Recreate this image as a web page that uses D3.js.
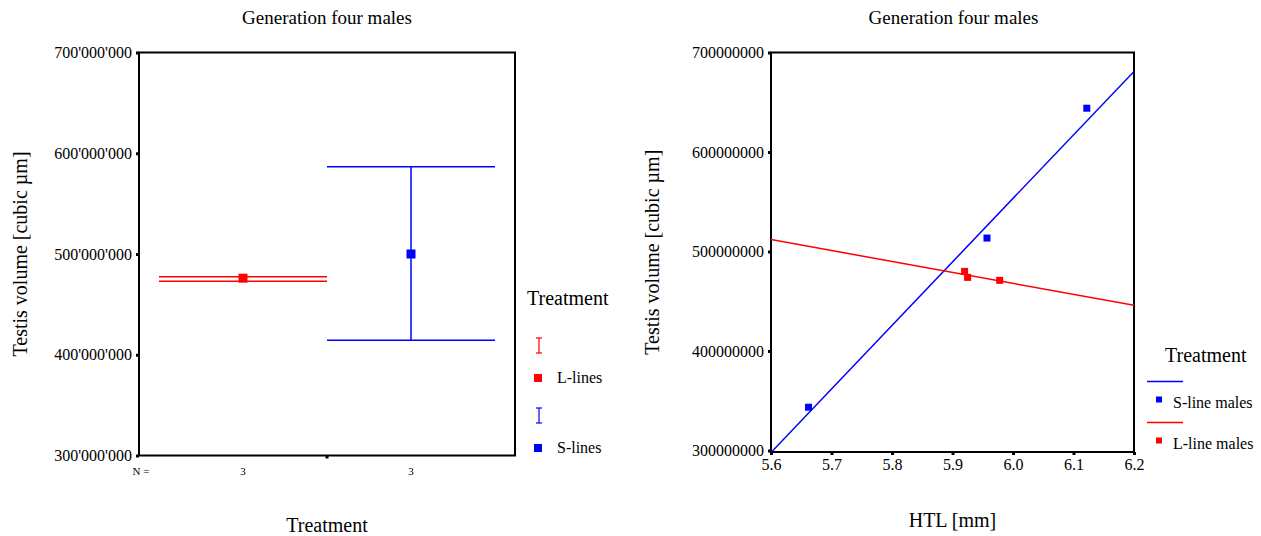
<!DOCTYPE html>
<html>
<head>
<meta charset="utf-8">
<script src="https://cdn.jsdelivr.net/npm/d3@7"></script>
<style>
  body { margin: 0; background: #fff; }
  text { font-family: "Liberation Serif", "Times New Roman", serif; fill: #000; }
</style>
</head>
<body>
<div id="chart"></div>
<script>
// ---- data: left panel, mean +/- error per treatment
var groups = ["L-lines", "S-lines"];
var groupN = [3, 3];
var groupMean = [476e6, 500e6];
var groupLow = [473e6, 414.5e6];
var groupHigh = [477.5e6, 586.5e6];
var groupColor = ["#ff0000", "#0000ff"];
var volTicks = [300e6, 400e6, 500e6, 600e6, 700e6];

// ---- data: right panel, HTL vs testis volume
var sLineHTL = [5.662, 5.957, 6.122];
var sLineVol = [343.5e6, 513.5e6, 644e6];
var lLineHTL = [5.920, 5.925, 5.978];
var lLineVol = [480e6, 474e6, 471e6];
var sLineFit = [[5.6, 298e6], [6.2, 681e6]];
var lLineFit = [[5.6, 512e6], [6.2, 446e6]];
var htlTicks = [5.6, 5.7, 5.8, 5.9, 6.0, 6.1, 6.2];
var fitLegend = ["S-line males", "L-line males"];
var fitColor = ["#0000ff", "#ff0000"];

var width = 1261, height = 536;

var svg = d3.select("#chart")
  .append("svg")
    .attr("width", width)
    .attr("height", height);

var fmt = d3.formatLocale({decimal: ".", thousands: "'", grouping: [3], currency: ["", ""]}).format(",");

// =================== left panel ===================
var L = {x0: 139, x1: 515, y0: 52.5, y1: 455.5};

var yL = d3.scaleLinear().domain([300e6, 700e6]).range([L.y1, L.y0]);
var xL = d3.scaleBand().domain(groups).range([L.x0 + 20, L.x1 - 20]).padding(0);

svg.append("text")
  .attr("x", (L.x0 + L.x1) / 2).attr("y", 24)
  .attr("text-anchor", "middle").style("font-size", "19px")
  .text("Generation four males");

// y axis with small square ticks
var gyL = svg.append("g")
  .attr("transform", "translate(" + L.x0 + ",0)")
  .call(d3.axisLeft(yL).tickValues(volTicks).tickFormat(fmt).tickSize(3).tickPadding(4));
gyL.select(".domain").remove();
gyL.selectAll("line").attr("stroke", "#000").attr("stroke-width", 3);
gyL.selectAll("text").style("font-size", "16px").style("font-family", '"Liberation Serif", serif');

// tick between the two groups on the bottom axis
svg.append("rect")
  .attr("x", xL(groups[1]) - 1.5).attr("y", L.y1)
  .attr("width", 3).attr("height", 3).attr("fill", "#000");

// frame
svg.append("rect")
  .attr("x", L.x0).attr("y", L.y0)
  .attr("width", L.x1 - L.x0).attr("height", L.y1 - L.y0)
  .attr("fill", "none").attr("stroke", "#000").attr("stroke-width", 2);

// error bars
groups.forEach(function(g, i) {
  var bx = xL(g), bw = xL.bandwidth(), cx = bx + bw / 2;
  var eb = svg.append("g").attr("stroke", groupColor[i]).attr("stroke-width", 1.5);
  eb.append("line").attr("x1", bx).attr("x2", bx + bw).attr("y1", yL(groupHigh[i])).attr("y2", yL(groupHigh[i]));
  eb.append("line").attr("x1", bx).attr("x2", bx + bw).attr("y1", yL(groupLow[i])).attr("y2", yL(groupLow[i]));
  eb.append("line").attr("x1", cx).attr("x2", cx).attr("y1", yL(groupHigh[i])).attr("y2", yL(groupLow[i]));
  svg.append("rect")
    .attr("x", cx - 4.5).attr("y", yL(groupMean[i]) - 4.5)
    .attr("width", 9).attr("height", 9)
    .attr("fill", groupColor[i]);
  // N counts
  svg.append("text")
    .attr("x", cx).attr("y", 475)
    .attr("text-anchor", "middle").style("font-size", "11px")
    .text(groupN[i]);
});

svg.append("text")
  .attr("x", L.x0 + 2).attr("y", 475)
  .attr("text-anchor", "middle").style("font-size", "11px")
  .text("N =");

svg.append("text")
  .attr("x", (L.x0 + L.x1) / 2).attr("y", 532)
  .attr("text-anchor", "middle").style("font-size", "20px")
  .text("Treatment");

svg.append("text")
  .attr("transform", "translate(27," + ((L.y0 + L.y1) / 2) + ") rotate(-90)")
  .attr("text-anchor", "middle").style("font-size", "20px")
  .text("Testis volume [cubic µm]");

// legend
svg.append("text").attr("x", 527).attr("y", 305).style("font-size", "20px").text("Treatment");
groups.forEach(function(g, i) {
  var top = 338 + i * 70;
  var lg = svg.append("g").attr("stroke", groupColor[i]).attr("stroke-width", 1.2);
  lg.append("line").attr("x1", 539).attr("x2", 539).attr("y1", top).attr("y2", top + 15);
  lg.append("line").attr("x1", 536).attr("x2", 542).attr("y1", top).attr("y2", top);
  lg.append("line").attr("x1", 536).attr("x2", 542).attr("y1", top + 15).attr("y2", top + 15);
  svg.append("rect")
    .attr("x", 534).attr("y", top + 36).attr("width", 8).attr("height", 8)
    .attr("fill", groupColor[i]);
  svg.append("text").attr("x", 557).attr("y", top + 45).style("font-size", "16px").text(g);
});

// =================== right panel ===================
var R = {x0: 771, x1: 1134, y0: 52.5, y1: 452};

var xR = d3.scaleLinear().domain([5.6, 6.2]).range([R.x0, R.x1]);
var yR = d3.scaleLinear().domain([298.5e6, 700e6]).range([R.y1, R.y0]);

svg.append("text")
  .attr("x", (R.x0 + R.x1) / 2 + 1).attr("y", 24)
  .attr("text-anchor", "middle").style("font-size", "19px")
  .text("Generation four males");

var gyR = svg.append("g")
  .attr("transform", "translate(" + R.x0 + ",0)")
  .call(d3.axisLeft(yR).tickValues(volTicks).tickFormat(d3.format("d")).tickSize(3).tickPadding(4));
gyR.select(".domain").remove();
gyR.selectAll("line").attr("stroke", "#000").attr("stroke-width", 3);
gyR.selectAll("text").style("font-size", "16px").style("font-family", '"Liberation Serif", serif');

var gxR = svg.append("g")
  .attr("transform", "translate(0," + R.y1 + ")")
  .call(d3.axisBottom(xR).tickValues(htlTicks).tickFormat(d3.format(".1f")).tickSize(3).tickPadding(4));
gxR.select(".domain").remove();
gxR.selectAll("line").attr("stroke", "#000").attr("stroke-width", 3);
gxR.selectAll("text").style("font-size", "16px").style("font-family", '"Liberation Serif", serif');

svg.append("rect")
  .attr("x", R.x0).attr("y", R.y0)
  .attr("width", R.x1 - R.x0).attr("height", R.y1 - R.y0)
  .attr("fill", "none").attr("stroke", "#000").attr("stroke-width", 2);

svg.append("clipPath").attr("id", "clipR")
  .append("rect").attr("x", R.x0).attr("y", R.y0)
  .attr("width", R.x1 - R.x0).attr("height", R.y1 - R.y0);

var line = d3.line()
  .x(function(d) { return xR(d[0]); })
  .y(function(d) { return yR(d[1]); });

var plot = svg.append("g").attr("clip-path", "url(#clipR)");
plot.append("path").datum(sLineFit).attr("d", line)
  .attr("fill", "none").attr("stroke", "#0000ff").attr("stroke-width", 1.5);
plot.append("path").datum(lLineFit).attr("d", line)
  .attr("fill", "none").attr("stroke", "#ff0000").attr("stroke-width", 1.5);

function points(xs, ys, color) {
  plot.selectAll(null)
    .data(xs.map(function(x, i) { return [x, ys[i]]; }))
    .enter()
    .append("rect")
      .attr("x", function(d) { return xR(d[0]) - 3.5; })
      .attr("y", function(d) { return yR(d[1]) - 3.5; })
      .attr("width", 7).attr("height", 7)
      .attr("fill", color);
}
points(sLineHTL, sLineVol, "#0000ff");
points(lLineHTL, lLineVol, "#ff0000");

svg.append("text")
  .attr("x", (R.x0 + R.x1) / 2).attr("y", 527)
  .attr("text-anchor", "middle").style("font-size", "20px")
  .text("HTL [mm]");

svg.append("text")
  .attr("transform", "translate(659," + ((R.y0 + R.y1) / 2) + ") rotate(-90)")
  .attr("text-anchor", "middle").style("font-size", "20px")
  .text("Testis volume [cubic µm]");

// legend
svg.append("text").attr("x", 1165).attr("y", 362).style("font-size", "20px").text("Treatment");
fitLegend.forEach(function(name, i) {
  var ly = 381.5 + i * 41;
  svg.append("line")
    .attr("x1", 1147).attr("x2", 1183).attr("y1", ly).attr("y2", ly)
    .attr("stroke", fitColor[i]).attr("stroke-width", 1.5);
  svg.append("rect")
    .attr("x", 1156).attr("y", ly + 15).attr("width", 6).attr("height", 6)
    .attr("fill", fitColor[i]);
  svg.append("text").attr("x", 1173).attr("y", ly + 26).style("font-size", "16px").text(name);
});
</script>
</body>
</html>
